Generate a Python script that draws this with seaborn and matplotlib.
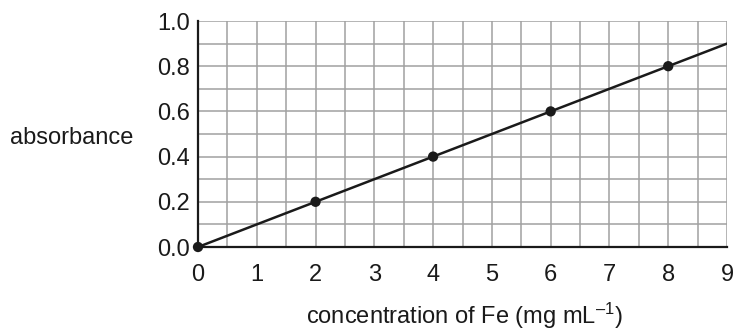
import matplotlib
matplotlib.use("Agg")
import matplotlib.pyplot as plt
import seaborn as sns
import pandas as pd
import numpy as np
from matplotlib.ticker import MultipleLocator

# data
conc_points = [0, 2, 4, 6, 8]
abs_points = [0.0, 0.2, 0.4, 0.6, 0.8]
line_x = [0, 9]
line_y = [0.0, 0.9]
x_ticks = [0, 1, 2, 3, 4, 5, 6, 7, 8, 9]
y_ticks = [0.0, 0.2, 0.4, 0.6, 0.8, 1.0]

sns.set_theme(style="white")
plt.rcParams['font.family'] = ['Liberation Sans', 'DejaVu Sans']
plt.rcParams['mathtext.fontset'] = 'custom'
plt.rcParams['mathtext.rm'] = 'Liberation Sans'
plt.rcParams['mathtext.it'] = 'Liberation Sans'

fig = plt.figure(figsize=(7.35, 3.33), dpi=100)
ax = fig.add_axes([198/735, 1 - 247/333, (727-198)/735, (247-21)/333])

ax.set_xlim(0, 9)
ax.set_ylim(0, 1.0)
ax.xaxis.set_minor_locator(MultipleLocator(0.5))
ax.yaxis.set_minor_locator(MultipleLocator(0.1))
ax.set_xticks(x_ticks)
ax.set_yticks(y_ticks)
ax.set_xticklabels([str(v) for v in x_ticks])
ax.set_yticklabels([f"{v:.1f}" for v in y_ticks])
ax.grid(True, which='both', color='#a0a0a0', linewidth=1.1)
ax.set_axisbelow(True)

line_df = pd.DataFrame({"x": line_x, "y": line_y})
pts_df = pd.DataFrame({"x": conc_points, "y": abs_points})
sns.lineplot(data=line_df, x="x", y="y", ax=ax, color='#1a1a1a', linewidth=1.8, zorder=3)
sns.scatterplot(data=pts_df, x="x", y="y", ax=ax, color='#1a1a1a', s=55, edgecolor='none', zorder=4, clip_on=False)

for s in ['top', 'right']:
    ax.spines[s].set_visible(False)
for s in ['left', 'bottom']:
    ax.spines[s].set_color('#1a1a1a')
    ax.spines[s].set_linewidth(1.6)
    ax.spines[s].set_zorder(5)

ax.tick_params(axis='both', which='both', length=0, labelsize=17, colors='#1a1a1a')
ax.tick_params(axis='x', pad=12.5)
ax.tick_params(axis='y', pad=5.5)

ax.set_xlabel("concentration of Fe (mg mL$^{\u2013 1}$)", fontsize=17, color='#1a1a1a')
ax.xaxis.set_label_coords(0.503, (247-324)/226)
ax.xaxis.label.set_verticalalignment('baseline')
ax.set_ylabel("absorbance", fontsize=17, color='#1a1a1a', rotation=0)
ax.yaxis.set_label_coords((72-198)/529, (247-144)/226)
ax.yaxis.label.set_horizontalalignment('center')
ax.yaxis.label.set_verticalalignment('baseline')

fig.savefig("out.png", dpi=100)
